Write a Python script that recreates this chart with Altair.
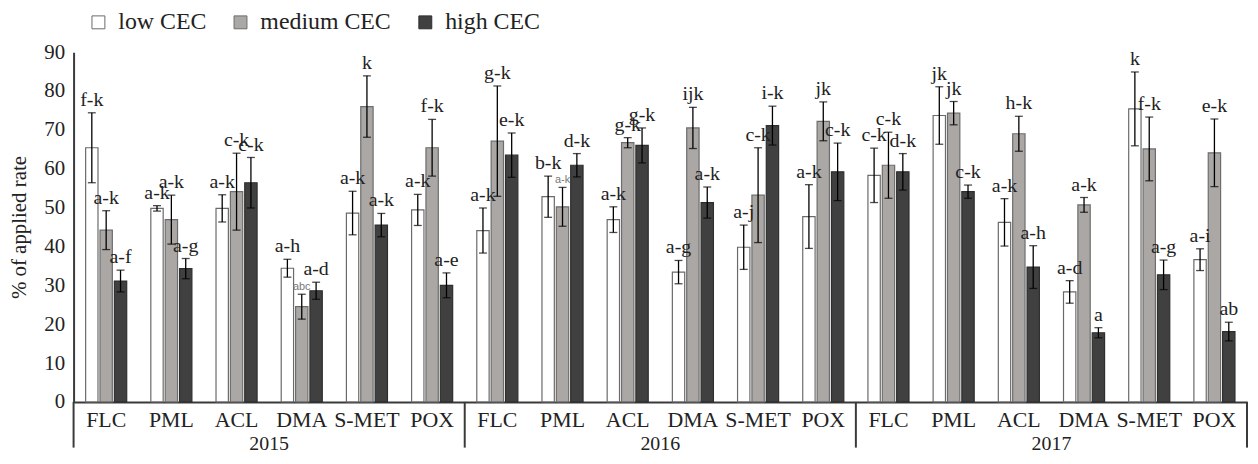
import altair as alt
import pandas as pd

years = ["2015", "2016", "2017"]
herbicides = ["FLC", "PML", "ACL", "DMA", "S-MET", "POX"]
cec_levels = ["low CEC", "medium CEC", "high CEC"]

# order: 2015 (6 herbicides), 2016 (6), 2017 (6)
low_mean = [65.4, 49.8, 49.8, 34.4, 48.6, 49.4,
            44.1, 52.8, 46.9, 33.4, 39.8, 47.7,
            58.3, 73.7, 46.2, 28.3, 75.4, 36.6]
low_err = [9.0, 0.7, 3.5, 2.3, 5.6, 4.0,
           5.8, 5.3, 3.3, 3.0, 5.7, 8.2,
           7.0, 7.4, 6.1, 2.9, 9.5, 2.8]
med_mean = [44.2, 46.9, 54.1, 24.5, 76.0, 65.4,
            67.1, 50.2, 66.7, 70.5, 53.2, 72.2,
            60.9, 74.3, 69.0, 50.7, 65.1, 64.1]
med_err = [5.0, 6.3, 9.9, 3.2, 7.9, 7.3,
           14.2, 5.0, 1.3, 5.3, 12.2, 5.0,
           8.5, 3.0, 4.5, 1.9, 8.2, 8.7]
high_mean = [31.1, 34.3, 56.4, 28.6, 45.5, 30.0,
             63.5, 60.9, 66.0, 51.3, 71.1, 59.2,
             59.2, 54.1, 34.7, 17.8, 32.7, 18.1]
high_err = [2.8, 2.6, 6.5, 2.2, 3.0, 3.2,
            5.7, 3.0, 4.5, 4.0, 5.0, 7.4,
            4.7, 1.7, 5.5, 1.3, 3.8, 2.4]
low_lab = ["f-k", "a-k", "a-k", "a-h", "a-k", "a-k",
           "a-k", "b-k", "a-k", "a-g", "a-j", "a-k",
           "c-k", "jk", "a-k", "a-d", "k", "a-i"]
med_lab = ["a-k", "a-k", "c-k", "abc", "k", "f-k",
           "g-k", "a-k", "g-k", "ijk", "c-k", "jk",
           "c-k", "jk", "h-k", "a-k", "f-k", "e-k"]
high_lab = ["a-f", "a-g", "c-k", "a-d", "a-k", "a-e",
            "e-k", "d-k", "g-k", "a-k", "i-k", "c-k",
            "d-k", "c-k", "a-h", "a", "a-g", "ab"]
y_ticks = [0, 10, 20, 30, 40, 50, 60, 70, 80, 90]

year_pos = [3, 9, 15]
sep_pos = [0, 6, 12, 18]

rows = []
for yi, yr in enumerate(years):
    for hi, h in enumerate(herbicides):
        k = yi * 6 + hi
        for lvl, m, e, lab in zip(cec_levels,
                                  [low_mean[k], med_mean[k], high_mean[k]],
                                  [low_err[k], med_err[k], high_err[k]],
                                  [low_lab[k], med_lab[k], high_lab[k]]):
            rows.append(dict(year=yr, herb=h, grp=f"{yr} {h}", cec=lvl,
                             mean=m, lo=m - e, hi=m + e, label=lab,
                             key=f"{yr} {h} {lvl}"))
df = pd.DataFrame(rows)
grp_order = [f"{y} {h}" for y in years for h in herbicides]

W, H = 1181, 352
FONT = "Liberation Serif"
TXT = "#222222"

x = alt.X("grp:N", sort=grp_order,
          scale=alt.Scale(domain=grp_order, paddingInner=0.37, paddingOuter=0.185),
          axis=alt.Axis(title=None, labelExpr="split(datum.value, ' ')[1]",
                        labelAngle=0, ticks=False, domainColor="#3a3a3a",
                        domainWidth=2, labelFont=FONT, labelFontSize=22,
                        labelColor=TXT, labelPadding=8, labelOverlap=False))
xo = alt.XOffset("cec:N", sort=cec_levels,
                 scale=alt.Scale(domain=cec_levels, paddingInner=0.14, paddingOuter=0))
y_scale = alt.Scale(domain=[0, 90], nice=False, zero=True)
y_axis = alt.Axis(values=y_ticks, tickCount=10, ticks=False, grid=False,
                  domainColor="#3a3a3a", domainWidth=2,
                  labelFont=FONT, labelFontSize=21, labelColor=TXT,
                  labelOverlap=False, labelFlush=False,
                  labelPadding=9, title="% of applied rate",
                  titleFont=FONT, titleFontSize=21, titleFontWeight="normal",
                  titleColor=TXT, titlePadding=14)


def yenc(field):
    return alt.Y(field, type="quantitative", scale=y_scale, axis=y_axis)


fill_scale = alt.Scale(domain=cec_levels, range=["#ffffff", "#aaa7a5", "#404040"])
stroke_scale = alt.Scale(domain=cec_levels, range=["#6a6a6a", "#6d6d6d", "#2e2e2e"])

base = alt.Chart(df)

bars = base.mark_bar(strokeWidth=1.2).encode(
    x=x, xOffset=xo, y=yenc("mean"),
    fill=alt.Fill("cec:N", scale=fill_scale, sort=cec_levels,
                  legend=alt.Legend(title=None, orient="none", legendX=13, legendY=-42,
                                    direction="horizontal", symbolType="square",
                                    symbolSize=169, symbolStrokeColor="#555555",
                                    symbolStrokeWidth=1, labelFont=FONT,
                                    labelFontSize=24, labelColor=TXT,
                                    labelOffset=8, columnPadding=22, padding=0)),
    stroke=alt.Stroke("cec:N", scale=stroke_scale, legend=None),
)

err = base.mark_rule(color="black", strokeWidth=1.3).encode(
    x=x, xOffset=xo, y=yenc("lo"), y2="hi:Q")
cap_top = base.mark_tick(color="black", thickness=1.3, size=8, orient="horizontal").encode(
    x=x, xOffset=xo, y=yenc("hi"))
cap_bot = base.mark_tick(color="black", thickness=1.3, size=8, orient="horizontal").encode(
    x=x, xOffset=xo, y=yenc("lo"))

small = "datum.key == '2015 DMA medium CEC' || datum.key == '2016 PML medium CEC'"
labels = base.transform_filter("!(" + small + ")").mark_text(
    baseline="bottom", dy=-3, font=FONT, fontSize=20, color=TXT).encode(
    x=x, xOffset=xo, y=yenc("hi"), text="label:N")
labels_small = base.transform_filter(small).mark_text(
    baseline="bottom", dy=-2, font="Liberation Sans", fontSize=11, color="#777777").encode(
    x=x, xOffset=xo, y=yenc("hi"), text="label:N")

main = alt.layer(bars, err, cap_top, cap_bot, labels, labels_small)

xq = alt.X("pos:Q", scale=alt.Scale(domain=[0, 18], nice=False, zero=False), axis=None)
year_df = pd.DataFrame({"pos": year_pos, "year": years})
sep_df = pd.DataFrame({"pos": sep_pos})
year_text = alt.Chart(year_df).mark_text(font=FONT, fontSize=20, color=TXT,
                                         baseline="middle").encode(
    x=xq, y=alt.value(H + 42), text="year:N")
seps = alt.Chart(sep_df).mark_rule(color="#3a3a3a", strokeWidth=2).encode(
    x=xq, y=alt.value(H), y2=alt.value(H + 46))

chart = alt.layer(main, year_text, seps).resolve_scale(x="independent").properties(
    width=W, height=H,
    autosize=alt.AutoSizeParams(type="none"),
    padding={"left": 66, "top": 43, "right": 3, "bottom": 53},
).configure(background="white", font=FONT).configure_view(strokeWidth=0, stroke="transparent")

chart.save("out.html", embed_options={"renderer": "svg", "actions": False})
